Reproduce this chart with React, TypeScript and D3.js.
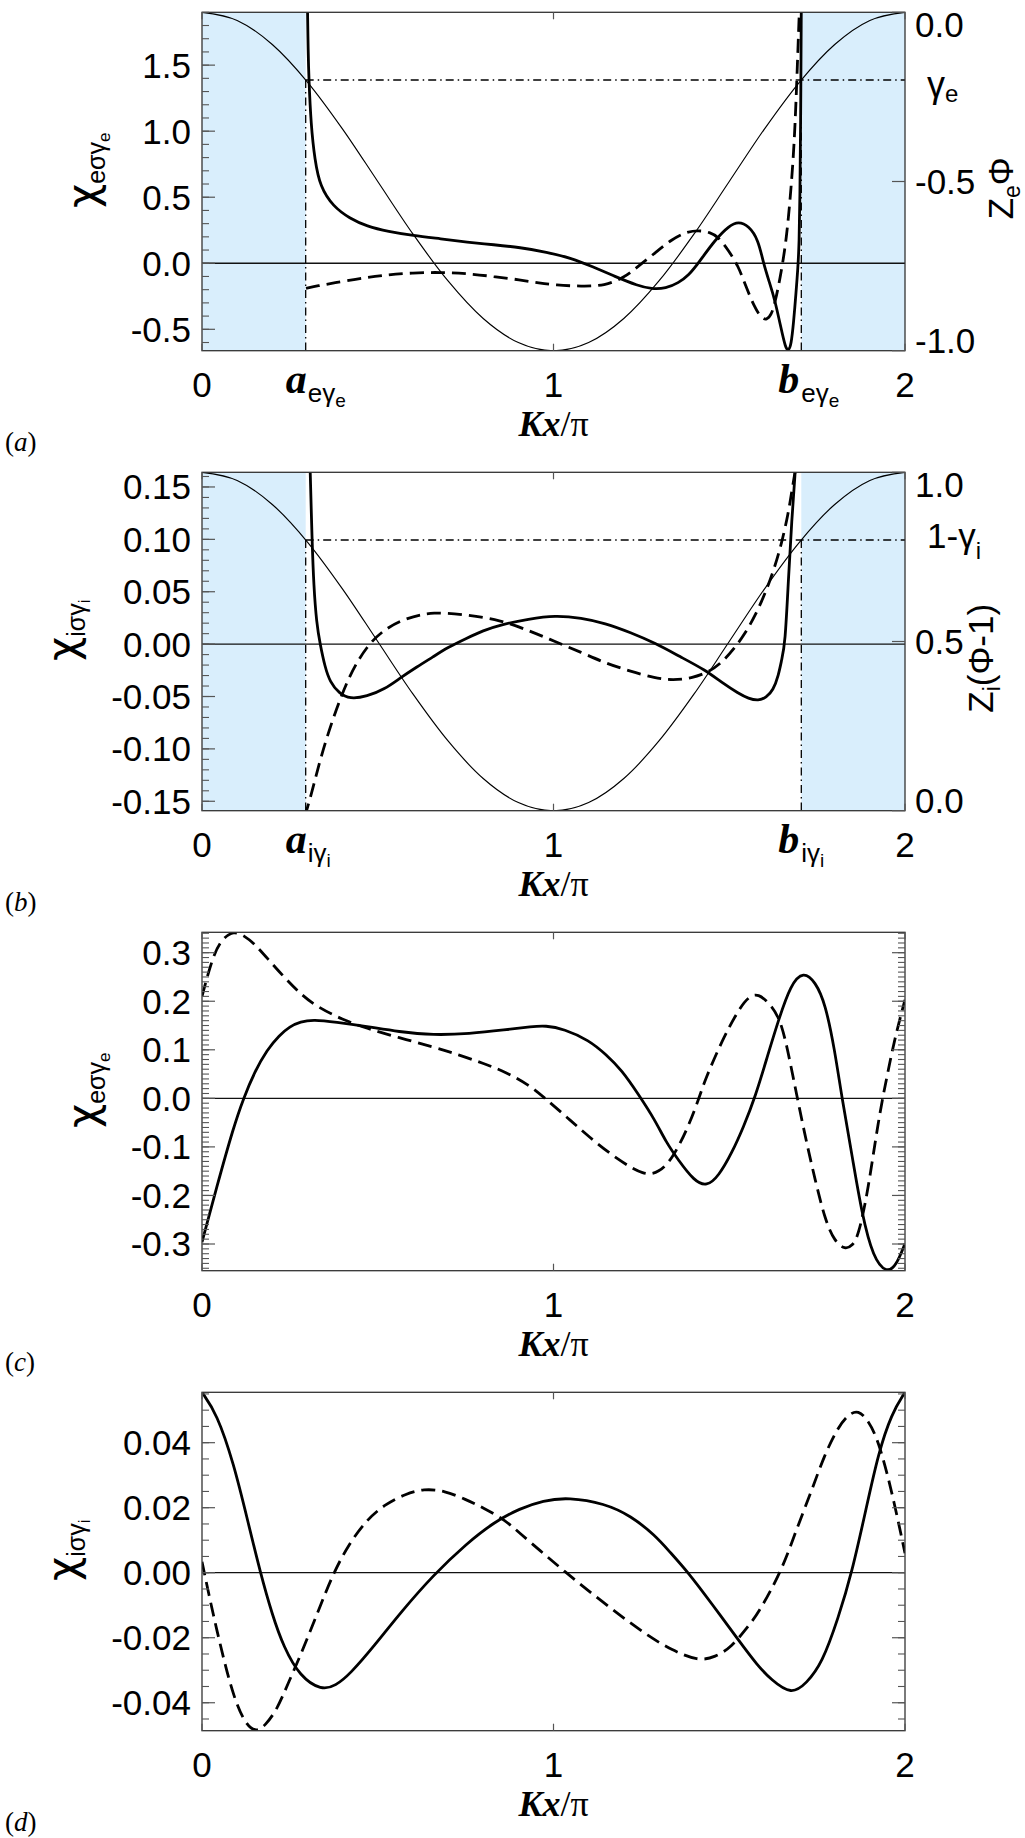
import React from "react";
import * as d3 from "d3";

type Pt = [number, number];

// ---- thin reference profiles (read at Kx/pi = 0, 0.1, ..., 2.0) ----
const profileX = [0, 0.1, 0.2, 0.3, 0.4, 0.5, 0.6, 0.7, 0.8, 0.9, 1.0, 1.1, 1.2, 1.3, 1.4, 1.5, 1.6, 1.7, 1.8, 1.9, 2.0];
const zePhi = [0, -0.024, -0.095, -0.206, -0.345, -0.5, -0.655, -0.794, -0.905, -0.976, -1.0, -0.976, -0.905, -0.794, -0.655, -0.5, -0.345, -0.206, -0.095, -0.024, 0];
const ziPhiMinus1 = [1, 0.976, 0.905, 0.794, 0.655, 0.5, 0.345, 0.206, 0.095, 0.024, 0, 0.024, 0.095, 0.206, 0.345, 0.5, 0.655, 0.794, 0.905, 0.976, 1];

// turning points and levels
const gammaE = 0.2;          // level on Z_e Phi axis is -gammaE
const oneMinusGammaI = 0.8;  // level on Z_i(Phi-1) axis
const boundA = 0.295;
const boundB = 1.705;

// ---- panel (a) ----
const aSolid: Pt[] = [[0.300, 1.95], [0.302, 1.60], [0.304, 1.40], [0.310, 1.05], [0.321, 0.78], [0.336, 0.58], [0.373, 0.43], [0.42, 0.34], [0.469, 0.28], [0.53, 0.24], [0.60, 0.21], [0.68, 0.185], [0.754, 0.16], [0.83, 0.14], [0.905, 0.12], [0.98, 0.085], [1.052, 0.038], [1.11, -0.025], [1.175, -0.10], [1.24, -0.17], [1.279, -0.195], [1.32, -0.19], [1.355, -0.15], [1.385, -0.09], [1.412, 0.0], [1.459, 0.176], [1.50, 0.285], [1.526, 0.315], [1.555, 0.285], [1.583, 0.177], [1.597, 0.0], [1.615, -0.15], [1.630, -0.28], [1.648, -0.50], [1.660, -0.64], [1.668, -0.665], [1.676, -0.62], [1.683, -0.45], [1.690, -0.22], [1.695, -0.05], [1.699, 0.15], [1.701, 0.5], [1.703, 1.0], [1.705, 1.95]];
const aDashed: Pt[] = [[0.296, -0.19], [0.33, -0.17], [0.374, -0.15], [0.45, -0.115], [0.52, -0.09], [0.60, -0.072], [0.68, -0.068], [0.754, -0.078], [0.83, -0.10], [0.905, -0.126], [0.96, -0.15], [1.004, -0.165], [1.08, -0.175], [1.146, -0.17], [1.20, -0.11], [1.24, -0.025], [1.29, 0.08], [1.336, 0.18], [1.375, 0.235], [1.412, 0.25], [1.445, 0.235], [1.469, 0.2], [1.50, 0.09], [1.526, -0.025], [1.54, -0.126], [1.574, -0.35], [1.593, -0.415], [1.606, -0.43], [1.62, -0.39], [1.63, -0.30], [1.644, -0.126], [1.663, 0.177], [1.677, 0.6], [1.687, 0.99], [1.697, 1.74], [1.700, 1.95]];

// ---- panel (b) ----
const bSolid: Pt[] = [[0.305, 0.20], [0.308, 0.163], [0.313, 0.10], [0.318, 0.055], [0.326, 0.02], [0.336, 0.0], [0.350, -0.022], [0.364, -0.036], [0.39, -0.047], [0.421, -0.0525], [0.469, -0.050], [0.52, -0.043], [0.563, -0.0325], [0.61, -0.022], [0.658, -0.012], [0.70, -0.003], [0.753, 0.0057], [0.80, 0.013], [0.848, 0.0184], [0.93, 0.024], [1.004, 0.0275], [1.08, 0.025], [1.146, 0.020], [1.22, 0.011], [1.289, 0.001], [1.36, -0.012], [1.431, -0.0245], [1.48, -0.037], [1.526, -0.047], [1.555, -0.052], [1.583, -0.054], [1.605, -0.051], [1.625, -0.044], [1.64, -0.03], [1.649, -0.015], [1.659, 0.0], [1.668, 0.06], [1.678, 0.12], [1.687, 0.16], [1.694, 0.2]];
const bDashed: Pt[] = [[0.292, -0.165], [0.31, -0.145], [0.336, -0.110], [0.374, -0.069], [0.421, -0.028], [0.469, -0.002], [0.516, 0.0137], [0.58, 0.025], [0.658, 0.031], [0.753, 0.028], [0.848, 0.023], [0.93, 0.013], [1.004, 0.0025], [1.08, -0.008], [1.146, -0.018], [1.22, -0.026], [1.289, -0.0325], [1.34, -0.0345], [1.393, -0.0325], [1.44, -0.027], [1.478, -0.018], [1.515, -0.004], [1.546, 0.0105], [1.575, 0.028], [1.603, 0.049], [1.628, 0.072], [1.649, 0.096], [1.668, 0.125], [1.677, 0.144], [1.69, 0.17]];

// ---- panel (c) ----
const cSolid: Pt[] = [[0, -0.296], [0.042, -0.182], [0.09, -0.0585], [0.118, 0], [0.15, 0.055], [0.185, 0.1], [0.22, 0.13], [0.25, 0.148], [0.28, 0.158], [0.317, 0.162], [0.38, 0.157], [0.469, 0.148], [0.56, 0.137], [0.658, 0.13], [0.76, 0.133], [0.862, 0.141], [0.94, 0.148], [0.976, 0.15], [1.03, 0.143], [1.1, 0.12], [1.15, 0.09], [1.194, 0.058], [1.24, 0.01], [1.289, -0.045], [1.32, -0.09], [1.355, -0.127], [1.40, -0.17], [1.436, -0.182], [1.47, -0.16], [1.507, -0.113], [1.54, -0.06], [1.574, 0.003], [1.61, 0.09], [1.64, 0.161], [1.675, 0.235], [1.711, 0.262], [1.745, 0.24], [1.773, 0.196], [1.80, 0.1], [1.82, 0.003], [1.85, -0.12], [1.877, -0.237], [1.91, -0.33], [1.948, -0.36], [1.975, -0.345], [2.0, -0.299]];
const cDashed: Pt[] = [[0, 0.21], [0.033, 0.299], [0.06, 0.33], [0.09, 0.345], [0.12, 0.335], [0.147, 0.32], [0.19, 0.285], [0.232, 0.251], [0.28, 0.215], [0.326, 0.189], [0.40, 0.162], [0.469, 0.144], [0.56, 0.125], [0.658, 0.106], [0.73, 0.09], [0.80, 0.072], [0.862, 0.055], [0.93, 0.028], [0.976, 0], [1.04, -0.04], [1.1, -0.079], [1.18, -0.125], [1.26, -0.16], [1.30, -0.152], [1.336, -0.127], [1.38, -0.065], [1.414, 0.0], [1.431, 0.038], [1.48, 0.12], [1.526, 0.182], [1.555, 0.21], [1.583, 0.216], [1.615, 0.195], [1.649, 0.161], [1.68, 0.05], [1.716, -0.079], [1.745, -0.17], [1.773, -0.251], [1.80, -0.295], [1.83, -0.312], [1.85, -0.303], [1.867, -0.285], [1.895, -0.19], [1.924, -0.045], [1.95, 0.05], [1.972, 0.127], [2.0, 0.203]];

// ---- panel (d) ----
const dSolid: Pt[] = [[0, 0.0555], [0.042, 0.049], [0.09, 0.0337], [0.13, 0.016], [0.166, 0], [0.2, -0.013], [0.232, -0.0228], [0.279, -0.032], [0.34, -0.0362], [0.38, -0.0348], [0.421, -0.0312], [0.49, -0.0225], [0.563, -0.0125], [0.658, -0.0007], [0.753, 0.009], [0.83, 0.0155], [0.905, 0.0198], [0.97, 0.0222], [1.042, 0.0232], [1.146, 0.0213], [1.22, 0.0175], [1.289, 0.0115], [1.33, 0.0065], [1.384, 0], [1.45, -0.0095], [1.526, -0.0207], [1.58, -0.0285], [1.62, -0.033], [1.677, -0.0376], [1.72, -0.034], [1.764, -0.0279], [1.81, -0.014], [1.849, 0], [1.89, 0.02], [1.924, 0.0367], [1.962, 0.049], [2.0, 0.0555]];
const dDashed: Pt[] = [[0, 0.0034], [0.02, -0.007], [0.042, -0.0176], [0.065, -0.028], [0.09, -0.038], [0.12, -0.046], [0.152, -0.0492], [0.18, -0.047], [0.213, -0.0422], [0.245, -0.034], [0.279, -0.0258], [0.33, -0.012], [0.374, 0], [0.42, 0.0092], [0.469, 0.0163], [0.52, 0.021], [0.58, 0.0243], [0.63, 0.0258], [0.69, 0.0253], [0.753, 0.0224], [0.80, 0.020], [0.862, 0.0162], [0.905, 0.0121], [0.97, 0.006], [1.033, 0.0003], [1.11, -0.0065], [1.194, -0.0135], [1.27, -0.0195], [1.336, -0.0238], [1.412, -0.0272], [1.46, -0.026], [1.507, -0.0228], [1.55, -0.017], [1.583, -0.0125], [1.65, 0.0008], [1.69, 0.013], [1.735, 0.0254], [1.77, 0.036], [1.81, 0.0449], [1.84, 0.0488], [1.867, 0.05], [1.895, 0.047], [1.924, 0.0408], [1.962, 0.0254], [2.0, 0.006]];

// tick labels
const xTickValues = [0, 1, 2];
const aTicks = [-0.5, 0, 0.5, 1.0, 1.5];
const bTicks = [-0.15, -0.10, -0.05, 0, 0.05, 0.10, 0.15];
const cTicks = [-0.3, -0.2, -0.1, 0, 0.1, 0.2, 0.3];
const dTicks = [-0.04, -0.02, 0, 0.02, 0.04];
const aRightTicks = [0, -0.5, -1.0];
const bRightTicks = [1.0, 0.5, 0.0];

// ---------------- layout ----------------
const W = 1025;
const HT = 1838;
const XL = 202;
const XR = 905;
const PH = 338.4;
const SANS = "'Liberation Sans', Arial, Helvetica, sans-serif";
const CHI = "'DejaVu Sans', 'Liberation Sans', sans-serif";
const SERIF = "'Liberation Serif', 'Times New Roman', serif";
const BLUE = "#d9eefc";
const DASHDOT = "8,4,1.5,4";

const x = d3.scaleLinear().domain([0, 2]).range([XL, XR]);

function fmt(v: number, d: number) {
  const r = Math.abs(v) < 1e-9 ? 0 : v;
  return r.toFixed(d);
}

type Cfg = {
  id: string;
  letter: string;
  top: number;
  yDomain: [number, number];
  ticks: number[];
  dec: number;
  minorStep: number;
  solid: Pt[];
  dashed: Pt[];
  titleSub: string;
  titleSub2: string;
  titleX: number;
  kind: "ab" | "cd";
  thin?: number[];
  rightDomain?: [number, number];
  rightTicks?: number[];
  level?: number;
};

const panels: Cfg[] = [
  { id: "a", letter: "a", top: 12.3, yDomain: [-0.662, 1.90], ticks: aTicks, dec: 1, minorStep: 0.1, solid: aSolid, dashed: aDashed, titleSub: "e\u03c3\u03b3", titleSub2: "e", titleX: 97, kind: "ab", thin: zePhi, rightDomain: [-1, 0], rightTicks: aRightTicks, level: -gammaE },
  { id: "b", letter: "b", top: 472.3, yDomain: [-0.159, 0.164], ticks: bTicks, dec: 2, minorStep: 0.01, solid: bSolid, dashed: bDashed, titleSub: "i\u03c3\u03b3", titleSub2: "i", titleX: 77, kind: "ab", thin: ziPhiMinus1, rightDomain: [0, 1], rightTicks: bRightTicks, level: oneMinusGammaI },
  { id: "c", letter: "c", top: 932.3, yDomain: [-0.355, 0.342], ticks: cTicks, dec: 1, minorStep: 0.01, solid: cSolid, dashed: cDashed, titleSub: "e\u03c3\u03b3", titleSub2: "e", titleX: 97, kind: "cd" },
  { id: "d", letter: "d", top: 1392.3, yDomain: [-0.0486, 0.0555], ticks: dTicks, dec: 2, minorStep: 0.005, solid: dSolid, dashed: dDashed, titleSub: "i\u03c3\u03b3", titleSub2: "i", titleX: 77, kind: "cd" },
];

function Panel({ cfg }: { cfg: Cfg }) {
  const T = cfg.top;
  const B = T + PH;
  const y = d3.scaleLinear().domain(cfg.yDomain).range([B, T]);
  const thick = d3
    .line<Pt>()
    .x((d) => x(d[0]))
    .y((d) => y(d[1]))
    .curve(d3.curveBasis);

  const [lo, hi] = cfg.yDomain;
  const n0 = Math.ceil(lo / cfg.minorStep - 1e-6);
  const n1 = Math.floor(hi / cfg.minorStep + 1e-6);
  const minors = d3.range(n0, n1 + 1).map((k) => k * cfg.minorStep);

  const clipId = `clip-${cfg.id}`;
  const isAB = cfg.kind === "ab";
  const yr = isAB ? d3.scaleLinear().domain(cfg.rightDomain!).range([B, T]) : null;
  let thinPath: string | null = null;
  let levelY = 0;
  if (isAB && yr) {
    const thinLine = d3
      .line<number>()
      .x((_, i) => x(profileX[i]))
      .y((v) => yr(v))
      .curve(d3.curveMonotoneX);
    thinPath = thinLine(cfg.thin!);
    levelY = yr(cfg.level!);
  }
  const isE = cfg.id === "a";
  const subMain = isE ? "e\u03b3" : "i\u03b3";
  const subNest = isE ? "e" : "i";

  return (
    <g>
      <defs>
        <clipPath id={clipId}>
          <rect x={XL} y={T} width={XR - XL} height={PH} />
        </clipPath>
      </defs>
      <g clipPath={`url(#${clipId})`}>
        {isAB && (
          <>
            <rect x={x(0)} y={T} width={x(boundA) - x(0)} height={PH} fill={BLUE} />
            <rect x={x(boundB)} y={T} width={x(2) - x(boundB)} height={PH} fill={BLUE} />
            <path d={thinPath!} fill="none" stroke="#000" strokeWidth={1.15} />
          </>
        )}
        <line x1={XL} x2={XR} y1={y(0)} y2={y(0)} stroke="#111" strokeWidth={1.3} />
        {isAB && (
          <>
            <line x1={x(boundA)} x2={x(2)} y1={levelY} y2={levelY} stroke="#000" strokeWidth={1.3} strokeDasharray={DASHDOT} />
            <line x1={x(boundA)} x2={x(boundA)} y1={levelY} y2={B} stroke="#000" strokeWidth={1.3} strokeDasharray={DASHDOT} />
            <line x1={x(boundB)} x2={x(boundB)} y1={levelY} y2={B} stroke="#000" strokeWidth={1.3} strokeDasharray={DASHDOT} />
          </>
        )}
        <path d={thick(cfg.dashed)!} fill="none" stroke="#000" strokeWidth={2.8} strokeDasharray="14,7" />
        <path d={thick(cfg.solid)!} fill="none" stroke="#000" strokeWidth={2.8} />
      </g>
      {/* frame */}
      <rect x={XL} y={T} width={XR - XL} height={PH} fill="none" stroke="#333" strokeWidth={1.3} />
      {/* left ticks */}
      {minors.map((v, i) => (
        <line key={`mn${i}`} x1={XL} x2={XL + 7} y1={y(v)} y2={y(v)} stroke="#555" strokeWidth={1.1} />
      ))}
      {cfg.ticks.map((v, i) => (
        <line key={`mj${i}`} x1={XL} x2={XL + 13} y1={y(v)} y2={y(v)} stroke="#555" strokeWidth={1.2} />
      ))}
      {!isAB &&
        minors.map((v, i) => (
          <line key={`rmn${i}`} x1={XR} x2={XR - 7} y1={y(v)} y2={y(v)} stroke="#555" strokeWidth={1.1} />
        ))}
      {!isAB &&
        cfg.ticks.map((v, i) => (
          <line key={`rmj${i}`} x1={XR} x2={XR - 13} y1={y(v)} y2={y(v)} stroke="#555" strokeWidth={1.2} />
        ))}
      {isAB &&
        yr &&
        cfg.rightTicks!.map((v, i) => (
          <line key={`rt${i}`} x1={XR} x2={XR - 13} y1={yr(v)} y2={yr(v)} stroke="#555" strokeWidth={1.2} />
        ))}
      {/* x ticks */}
      {xTickValues.map((v, i) => (
        <g key={`xt${i}`}>
          <line x1={x(v)} x2={x(v)} y1={T} y2={T + 7} stroke="#555" strokeWidth={1.2} />
          <line x1={x(v)} x2={x(v)} y1={B} y2={B - 7} stroke="#555" strokeWidth={1.2} />
        </g>
      ))}
      {/* left tick labels */}
      {cfg.ticks.map((v, i) => (
        <text key={`ll${i}`} x={191} y={y(v) + 12.5} textAnchor="end" fontFamily={SANS} fontSize={35} fill="#000">
          {fmt(v, cfg.dec)}
        </text>
      ))}
      {/* right tick labels */}
      {isAB &&
        yr &&
        cfg.rightTicks!.map((v, i) => {
          const cy = Math.min(Math.max(yr(v), T + 12), B - 10);
          return (
            <text key={`rl${i}`} x={915} y={cy + 12.5} textAnchor="start" fontFamily={SANS} fontSize={35} fill="#000">
              {fmt(v, 1)}
            </text>
          );
        })}
      {/* x tick labels */}
      {xTickValues.map((v, i) => (
        <text key={`xl${i}`} x={x(v)} y={T + 385} textAnchor="middle" fontFamily={SANS} fontSize={35} fill="#000">
          {String(v)}
        </text>
      ))}
      {/* bound labels */}
      {isAB && (
        <>
          <text x={x(boundA) + 1} y={T + 381} textAnchor="end" fontFamily={SERIF} fontWeight="bold" fontStyle="italic" fontSize={42} fill="#000">
            a
          </text>
          <text x={x(boundA) + 2} y={T + 390} fontFamily={SANS} fontSize={26} fill="#000">
            {subMain}
            <tspan fontSize={19} dy={5}>{subNest}</tspan>
          </text>
          <text x={x(boundB) - 2} y={T + 381} textAnchor="end" fontFamily={SERIF} fontWeight="bold" fontStyle="italic" fontSize={42} fill="#000">
            b
          </text>
          <text x={x(boundB) + 0} y={T + 390} fontFamily={SANS} fontSize={26} fill="#000">
            {subMain}
            <tspan fontSize={19} dy={5}>{subNest}</tspan>
          </text>
        </>
      )}
      {/* x axis title */}
      <text x={x(1)} y={T + 424} textAnchor="middle" fontFamily={SERIF} fontSize={36} fill="#000">
        <tspan fontWeight="bold" fontStyle="italic">Kx</tspan>
        <tspan>/{"\u03c0"}</tspan>
      </text>
      {/* panel letter */}
      <text x={5} y={T + 439} fontFamily={SERIF} fontSize={27} fill="#000">
        (<tspan fontStyle="italic">{cfg.letter}</tspan>)
      </text>
      {/* y axis title */}
      <text transform={`translate(${cfg.titleX},${T + 158}) rotate(-90)`} textAnchor="middle" fontFamily={SANS} fontSize={44} fill="#000">
        <tspan fontFamily={CHI} fontSize={42}>{"\u03c7"}</tspan>
        <tspan fontSize={25} dy={8}>{cfg.titleSub}</tspan>
        <tspan fontSize={17} dy={5}>{cfg.titleSub2}</tspan>
      </text>
      {/* right axis titles and level labels */}
      {cfg.id === "a" && (
        <>
          <text x={927} y={T + 85} fontFamily={SANS} fontSize={36} fill="#000">
            {"\u03b3"}
            <tspan fontSize={24} dy={5}>e</tspan>
          </text>
          <text transform={`translate(1013,${T + 176}) rotate(-90)`} textAnchor="middle" fontFamily={SANS} fontSize={35} fill="#000">
            Z<tspan fontSize={23} dy={7}>e</tspan>
            <tspan dy={-7}>{"\u03a6"}</tspan>
          </text>
        </>
      )}
      {cfg.id === "b" && (
        <>
          <text x={927} y={T + 76} fontFamily={SANS} fontSize={35} fill="#000">
            1-{"\u03b3"}
            <tspan fontSize={24} dy={11}>i</tspan>
          </text>
          <text transform={`translate(993,${T + 186}) rotate(-90)`} textAnchor="middle" fontFamily={SANS} fontSize={35} fill="#000">
            Z<tspan fontSize={23} dy={7}>i</tspan>
            <tspan dy={-7}>({"\u03a6"}-1)</tspan>
          </text>
        </>
      )}
    </g>
  );
}

export default function App() {
  return (
    <svg
      width={W}
      height={HT}
      viewBox={`0 0 ${W} ${HT}`}
      style={{ position: "absolute", left: 0, top: 0, background: "#fff" }}
    >
      <rect x={0} y={0} width={W} height={HT} fill="#fff" />
      {panels.map((p) => (
        <Panel key={p.id} cfg={p} />
      ))}
    </svg>
  );
}
